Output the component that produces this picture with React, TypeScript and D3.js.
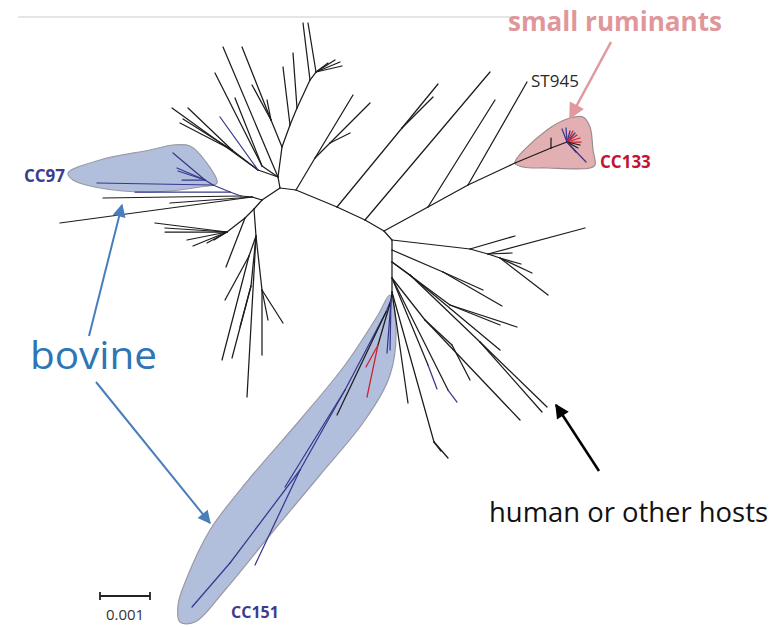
import React from "react";
import * as d3 from "d3";

// Unrooted tree layout, coordinates in units of 1e-5 substitutions/site,
// origin at the central node. [id, parent, x, y, host]
type Node = [string, string | null, number, number, string?];

const topNodes: Node[] = [
  ["R0", null, 0, 0],
  ["T1", "R0", -4, -22],
  ["t1", "T1", -114, -282],
  ["T2", "T1", -36, -44],
  ["t2", "T2", -130, -230],
  ["t3", "T2", -90, -180],
  ["T3", "T1", -44, -36],
  ["t4", "T3", -216, -160],
  ["T4", "T3", -96, -76],
  ["t5", "T4", -184, -160],
  ["t6", "T4", -200, -130],
  ["t7", "T4", -194, -138],
  ["t8", "T3", -120, -142, "bovine"],
  ["S1", "T1", 4, -82],
  ["S2", "S1", -18, -136],
  ["t9", "S2", -76, -282],
  ["t10", "S2", -56, -206],
  ["t11", "S2", -26, -176],
  ["S3", "S1", 20, -126],
  ["t12", "S3", 6, -242],
  ["S4", "S3", 34, -160],
  ["t13", "S4", 26, -270],
  ["S5", "S4", 60, -216],
  ["t14", "S5", 46, -330],
  ["S6", "S5", 72, -232],
  ["t15", "S6", 56, -330],
  ["t16", "S6", 120, -252],
  ["t17", "S6", 124, -244],
  ["t18", "S6", 96, -250],
  ["t19", "S6", 110, -256],
  ["N2", "R0", 32, 4],
  ["Nb", "N2", 70, -60],
  ["t20", "Nb", 146, -186],
  ["Nc", "Nb", 100, -90],
  ["t22", "Nc", 180, -170],
  ["t23", "Nc", 140, -110],
];

const backboneNodes: Node[] = [
  ["N3", "N2", 114, 38],
  ["N3a", "N3", 244, -120],
  ["t24", "N3a", 316, -208],
  ["t25", "N3a", 306, -182],
  ["N4", "N3", 170, 64],
  ["t26", "N4", 420, -232],
  ["N5", "N4", 208, 86],
  ["M1", "N5", 296, 38],
  ["t27", "M1", 430, -176],
  ["M2", "M1", 376, -6],
  ["ST945", "M2", 494, -212],
];

const cc133Nodes: Node[] = [
  ["M3", "M2", 470, -50],
  ["M4", "M3", 542, -80],
  ["t28", "M4", 542, -100],
  ["M5", "M4", 574, -92],
  ["f1", "M5", 572, -120, "bovine"],
  ["f2", "M5", 580, -114, "bovine"],
  ["f3", "M5", 590, -110, "bovine"],
  ["f12", "M5", 564, -118, "bovine"],
  ["f4", "M5", 586, -114, "ovine"],
  ["f5", "M5", 594, -106, "ovine"],
  ["f6", "M5", 600, -100, "ovine"],
  ["f7", "M5", 602, -92, "ovine"],
  ["f8", "M5", 600, -86],
  ["f9", "M5", 596, -80],
  ["f10", "M5", 592, -72],
  ["f11", "M5", 612, -52, "bovine"],
];

const rightNodes: Node[] = [
  ["N6", "N5", 224, 104],
  ["R1", "N6", 380, 122],
  ["t29", "R1", 470, 96],
  ["R2", "R1", 416, 132],
  ["t30", "R2", 610, 80],
  ["t31", "R2", 464, 130],
  ["R3", "R2", 440, 140],
  ["t32", "R3", 504, 170],
  ["t33", "R3", 536, 214],
  ["t34", "R3", 482, 152],
  ["R4", "N6", 224, 124],
  ["Ra", "R4", 326, 168],
  ["t35", "Ra", 406, 204],
  ["t36", "Ra", 444, 236],
  ["Rb", "R4", 224, 148],
  ["Rc", "Rb", 340, 234],
  ["t37", "Rc", 474, 278],
  ["t38", "Rc", 440, 274],
  ["Rd", "Rb", 260, 174],
  ["t39", "Rd", 440, 324],
  ["Re", "Rd", 400, 308],
  ["t40", "Re", 534, 438],
  ["t41", "Re", 524, 448],
  ["Rf", "Rb", 224, 180],
  ["Rg", "Rf", 290, 264],
  ["t42", "Rg", 480, 464],
  ["Rh", "Rg", 344, 314],
  ["t43", "Rh", 380, 384],
  ["Rk", "Rf", 296, 354],
  ["t44", "Rk", 314, 402, "bovine"],
  ["Rl", "Rf", 336, 404],
  ["t45", "Rl", 354, 428, "bovine"],
  ["Rs4", "Rf", 224, 208],
  ["t46", "Rs4", 256, 430],
  ["Rm", "Rs4", 308, 508],
  ["t47", "Rm", 336, 540],
  ["t48", "Rm", 322, 526],
];

const cc151Nodes: Node[] = [
  ["C0", "Rs4", 222, 224],
  ["C1", "C0", 212, 248, "bovine"],
  ["C2", "C1", 130, 404, "bovine"],
  ["C3", "C2", 40, 564, "bovine"],
  ["C5", "C3", -100, 750, "bovine"],
  ["t49", "C5", -176, 838, "bovine"],
  ["t50", "C3", -50, 754, "bovine"],
  ["t51", "C2", 10, 598, "bovine"],
  ["t52", "C1", 114, 454],
  ["C4", "C0", 196, 314],
  ["t53", "C4", 174, 418, "ovine"],
  ["t54", "C4", 172, 358, "ovine"],
  ["t55", "C0", 214, 330, "bovine"],
  ["t56", "C0", 220, 324, "bovine"],
];

const leftNodes: Node[] = [
  ["N1", "R0", -36, 24],
  ["L1", "N1", -56, 18],
  ["t57", "L1", -440, 70],
  ["t58", "L1", -220, 30],
  ["L4", "L1", -78, 16],
  ["t59", "L4", -354, 20],
  ["L5", "L4", -100, 8, "bovine"],
  ["t60", "L5", -290, 8, "bovine"],
  ["K1", "L5", -134, -6, "bovine"],
  ["t61", "K1", -366, -10, "bovine"],
  ["K2", "K1", -150, -16, "bovine"],
  ["t62", "K2", -214, -70, "bovine"],
  ["t63", "K2", -206, -40, "bovine"],
  ["t64", "K2", -204, -34, "bovine"],
  ["t65", "K2", -196, -16, "bovine"],
  ["L6", "N1", -52, 42],
  ["L7", "L6", -70, 60],
  ["L8", "L7", -106, 88],
  ["t66", "L8", -250, 70],
  ["t67", "L8", -230, 80],
  ["t68", "L8", -230, 88],
  ["t69", "L8", -186, 104],
  ["t70", "L8", -174, 116],
  ["t71", "L8", -146, 110],
  ["t72", "L8", -132, 104],
  ["t73", "L7", -108, 158],
  ["L9", "L6", -48, 96],
  ["t74", "L9", -66, 418],
  ["L10", "L9", -62, 136],
  ["t75", "L10", -110, 224],
  ["t76", "L10", -116, 344],
  ["L11", "L9", -58, 196],
  ["t77", "L11", -96, 340],
  ["t78", "L11", -80, 278],
  ["L12", "L9", -36, 204],
  ["t79", "L12", -36, 334],
  ["t80", "L12", 6, 270],
  ["t81", "L12", -24, 264],
];

// clade highlight outlines (same units)
const cc97Outline: [number, number][] = [
  [-424, -30], [-360, -56], [-260, -76], [-214, -86], [-180, -84], [-148, -52],
  [-126, -10], [-160, -2], [-260, 8], [-360, 0], [-414, -16],
];
const cc133Outline: [number, number][] = [
  [470, -50], [534, -116], [580, -140], [606, -142], [620, -122], [626, -76],
  [630, -46], [620, -40], [534, -40], [486, -42],
];
const cc151Outline: [number, number][] = [
  [220, 214], [232, 284], [220, 374], [170, 464], [80, 574], [-20, 694],
  [-110, 804], [-170, 868], [-200, 868], [-204, 834], [-188, 784], [-140, 684],
  [-60, 580], [40, 464], [130, 354], [196, 254],
];

const scaleBarValue = 0.001;
const unitsPerSub = 1e5;

const W = 782;
const H = 627;

const allNodes = [
  ...topNodes, ...backboneNodes, ...cc133Nodes, ...rightNodes, ...cc151Nodes, ...leftNodes,
];

const App = () => {
  const x = d3.scaleLinear().domain([-560, 1004]).range([0, W]);
  const y = d3.scaleLinear().domain([-376, 878]).range([0, H]);
  const hostColor = d3
    .scaleOrdinal<string, string>()
    .domain(["other", "bovine", "ovine"])
    .range(["#1c1c1c", "#38388c", "#d0202c"]);

  const byId = new Map(allNodes.map((n) => [n[0], n]));
  const edges = allNodes
    .filter((n) => n[1] !== null)
    .map((n) => ({ p: byId.get(n[1] as string)!, c: n }));

  const hull = d3
    .line<[number, number]>()
    .x((d) => x(d[0]))
    .y((d) => y(d[1]))
    .curve(d3.curveCatmullRomClosed.alpha(0.5));

  const extent = (o: [number, number][]) => ({
    minX: d3.min(o, (d) => d[0])!,
    maxX: d3.max(o, (d) => d[0])!,
    maxY: d3.max(o, (d) => d[1])!,
  });
  const e97 = extent(cc97Outline);
  const e133 = extent(cc133Outline);
  const e151 = extent(cc151Outline);
  const left97 = cc97Outline.find((d) => d[0] === e97.minX)!;
  const right133 = cc133Outline.find((d) => d[0] === e133.maxX)!;
  const bottom151 = cc151Outline.find((d) => d[1] === e151.maxY)!;
  const st = byId.get("ST945")!;

  const barLen = x(scaleBarValue * unitsPerSub) - x(0);
  const barX = 100;
  const barY = 596;

  const font = "'Open Sans', sans-serif";

  return (
    <svg
      width={W}
      height={H}
      style={{ position: "absolute", left: 0, top: 0, background: "#fff" }}
      fontFamily={font}
    >
      <defs>
        <marker id="headPink" viewBox="0 0 10 10" refX="9" refY="5" markerUnits="userSpaceOnUse" markerWidth="17" markerHeight="16" orient="auto">
          <path d="M0,0 L10,5 L0,10 z" fill="#e0999d" />
        </marker>
        <marker id="headBlue" viewBox="0 0 10 10" refX="9" refY="5" markerUnits="userSpaceOnUse" markerWidth="16" markerHeight="13" orient="auto">
          <path d="M0,0 L10,5 L0,10 z" fill="#4a7ebb" />
        </marker>
        <marker id="headBlack" viewBox="0 0 10 10" refX="9" refY="5" markerUnits="userSpaceOnUse" markerWidth="16" markerHeight="14" orient="auto">
          <path d="M0,0 L10,5 L0,10 z" fill="#000" />
        </marker>
      </defs>

      <line x1={18} x2={515} y1={17} y2={17} stroke="#dcdcdc" strokeWidth={1.5} />

      {/* clade highlights */}
      <path d={hull(cc97Outline)!} fill="#b1bfdd" stroke="#9a9aa6" strokeWidth={1.2} />
      <path d={hull(cc151Outline)!} fill="#b1bfdd" stroke="#9a9aa6" strokeWidth={1.2} />
      <path d={hull(cc133Outline)!} fill="#e2b0b3" stroke="#9c8c8c" strokeWidth={1.2} />

      {/* branches */}
      <g strokeWidth={1.25} strokeLinecap="round">
        {edges.map(({ p, c }) => (
          <line
            key={c[0]}
            x1={x(p[2])}
            y1={y(p[3])}
            x2={x(c[2])}
            y2={y(c[3])}
            stroke={hostColor(c[4] ?? "other")}
          />
        ))}
      </g>

      {/* clade labels */}
      <text x={x(left97[0]) - 3} y={y(left97[1]) + 9} textAnchor="end" fontWeight="bold" fontSize={17} fill="#3c3c8e">
        CC97
      </text>
      <text x={x(right133[0]) + 5} y={y(right133[1]) + 3} fontWeight="bold" fontSize={17} fill="#c41230">
        CC133
      </text>
      <text x={x(bottom151[0]) + 36} y={y(bottom151[1]) - 4} fontWeight="bold" fontSize={16} fill="#3c3c8e">
        CC151
      </text>
      <text x={x(st[2]) + 4} y={y(st[3]) + 5} fontSize={17} fill="#2a2a2a">
        ST945
      </text>

      {/* scale bar */}
      <g stroke="#222" strokeWidth={1.8}>
        <line x1={barX} x2={barX + barLen} y1={barY} y2={barY} />
        <line x1={barX} x2={barX} y1={barY - 4} y2={barY + 4} />
        <line x1={barX + barLen} x2={barX + barLen} y1={barY - 4} y2={barY + 4} />
      </g>
      <text x={barX + barLen / 2} y={620} textAnchor="middle" fontSize={15} fill="#333">
        {scaleBarValue}
      </text>

      {/* annotations */}
      <text x={508} y={31} fontSize={26} fontWeight="bold" fill="#e0979b" textLength={214} lengthAdjust="spacingAndGlyphs">
        small ruminants
      </text>
      <line x1={611} y1={42} x2={570} y2={118} stroke="#e0999d" strokeWidth={2.5} markerEnd="url(#headPink)" />

      <text x={30} y={369} fontSize={38} fill="#2e75b6" textLength={127} lengthAdjust="spacingAndGlyphs">
        bovine
      </text>
      <line x1={89} y1={336} x2={122} y2={205} stroke="#4a7ebb" strokeWidth={2} markerEnd="url(#headBlue)" />
      <line x1={96} y1={382} x2={210} y2={523} stroke="#4a7ebb" strokeWidth={2} markerEnd="url(#headBlue)" />

      <line x1={599} y1={471} x2={556} y2={405} stroke="#000" strokeWidth={2.5} markerEnd="url(#headBlack)" />
      <text x={489} y={522} fontSize={27} fill="#111" textLength={279} lengthAdjust="spacingAndGlyphs">
        human or other hosts
      </text>
    </svg>
  );
};

export default App;
